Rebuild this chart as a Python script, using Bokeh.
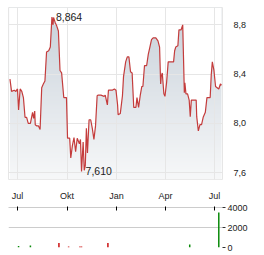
import numpy as np
import pandas as pd
from bokeh.plotting import figure
from bokeh.layouts import column
from bokeh.models import Range1d, FixedTicker, CustomJSTickFormatter
from bokeh.core.properties import value
from bokeh.embed import file_html
from bokeh.resources import INLINE

# ---------------- data ----------------
dates = [
    "2023-06-17", "2023-06-20", "2023-06-25", "2023-06-28", "2023-07-01", "2023-07-03",
    "2023-07-06", "2023-07-09", "2023-07-12", "2023-07-15", "2023-07-18", "2023-07-21",
    "2023-07-25", "2023-07-29", "2023-07-31", "2023-08-02", "2023-08-03", "2023-08-06",
    "2023-08-09", "2023-08-12", "2023-08-15", "2023-08-18", "2023-08-21", "2023-08-24",
    "2023-08-28", "2023-08-31", "2023-09-03", "2023-09-05", "2023-09-06", "2023-09-09",
    "2023-09-12", "2023-09-15", "2023-09-18", "2023-09-21", "2023-09-25", "2023-09-30",
    "2023-10-02", "2023-10-06", "2023-10-08", "2023-10-11", "2023-10-14", "2023-10-17",
    "2023-10-20", "2023-10-24", "2023-10-26", "2023-10-28", "2023-10-31", "2023-11-02",
    "2023-11-04", "2023-11-06", "2023-11-08", "2023-11-11", "2023-11-14", "2023-11-17",
    "2023-11-20", "2023-11-23", "2023-11-26", "2023-11-28", "2023-12-03", "2023-12-09",
    "2023-12-11", "2023-12-15", "2023-12-17", "2023-12-21", "2023-12-24", "2023-12-28",
    "2023-12-31", "2024-01-03", "2024-01-04", "2024-01-08", "2024-01-12", "2024-01-14",
    "2024-01-18", "2024-01-21", "2024-01-24", "2024-01-27", "2024-01-30", "2024-02-02",
    "2024-02-06", "2024-02-08", "2024-02-11", "2024-02-14", "2024-02-17", "2024-02-19",
    "2024-02-22", "2024-02-26", "2024-02-29", "2024-03-03", "2024-03-06", "2024-03-09",
    "2024-03-14", "2024-03-18", "2024-03-21", "2024-03-23", "2024-03-24", "2024-03-26",
    "2024-03-29", "2024-03-31", "2024-04-03", "2024-04-06", "2024-04-13", "2024-04-16",
    "2024-04-18", "2024-04-20", "2024-04-24", "2024-04-26", "2024-04-30", "2024-05-03",
    "2024-05-06", "2024-05-07", "2024-05-09", "2024-05-12", "2024-05-15", "2024-05-17",
    "2024-05-19", "2024-05-23", "2024-05-28", "2024-05-29", "2024-06-01", "2024-06-04",
    "2024-06-07", "2024-06-10", "2024-06-14", "2024-06-17", "2024-06-20", "2024-06-23",
    "2024-06-25", "2024-06-27", "2024-06-30", "2024-07-03", "2024-07-06", "2024-07-09",
    "2024-07-12", "2024-07-14",
]
prices = [
    8.36, 8.26, 8.27, 8.26, 8.28, 8.11,
    8.28, 8.26, 8.21, 8.05, 8.05, 8.00,
    8.00, 8.09, 8.04, 8.10, 7.99, 7.98,
    7.98, 7.95, 8.29, 8.32, 8.345, 8.58,
    8.59, 8.62, 8.864, 8.80, 8.86, 8.82,
    8.79, 8.75, 8.43, 8.41, 8.21, 8.21,
    7.88, 7.88, 7.72, 7.82, 7.885, 7.77,
    7.88, 7.835, 7.87, 7.61, 7.85, 7.62,
    7.66, 7.96, 7.76, 8.03, 8.03, 7.96,
    7.87, 7.98, 8.225, 8.23, 8.23, 8.22,
    8.23, 8.15, 8.27, 8.27, 8.27, 8.28,
    8.27, 8.15, 8.07, 8.08, 8.225, 8.38,
    8.50, 8.54, 8.54, 8.42, 8.41, 8.13,
    8.13, 8.21, 8.13, 8.225, 8.30, 8.30,
    8.47, 8.47, 8.56, 8.62, 8.68, 8.695,
    8.695, 8.67, 8.62, 8.32, 8.38, 8.41,
    8.24, 8.22, 8.33, 8.50, 8.50, 8.50,
    8.59, 8.62, 8.63, 8.76, 8.76, 8.80,
    8.25, 8.33, 8.24, 8.24, 8.19, 8.055,
    8.19, 8.19, 8.19, 8.055, 7.94, 7.99,
    7.99, 8.05, 8.09, 8.21, 8.21, 8.21,
    8.395, 8.50, 8.43, 8.30, 8.29, 8.28,
    8.32, 8.31,
]
vol_dates = ["2023-07-03", "2023-07-25", "2023-09-16", "2023-10-04", "2023-10-25",
             "2023-10-28", "2023-12-16", "2024-05-16", "2024-07-09"]
volumes = [150, 200, 450, 100, 100, 100, 450, 300, 3500]
vol_dir = ["up", "up", "down", "down", "down", "down", "down", "up", "up"]

month_ticks = ["2023-07-01", "2023-10-01", "2024-01-01", "2024-04-01", "2024-07-01"]
price_ticks = [7.6, 8.0, 8.4, 8.8]
volume_ticks = [0, 2000, 4000]

# ---------------- helpers ----------------
def to_ms(lst):
    return np.array(pd.to_datetime(lst).values.astype("datetime64[ms]").astype("int64"), dtype=float)

x_ms = to_ms(dates)
vx_ms = to_ms(vol_dates)
tick_ms = list(to_ms(month_ticks))
DAY = 86400000.0
X0 = tick_ms[0] - 16.7 * DAY
X1 = tick_ms[-1] + 14.9 * DAY
Y0, Y1 = 7.545, 8.941

FONT = "Liberation Sans"
TXT = "#222222"
month_fmt = CustomJSTickFormatter(code="""
const m=['Jan','Feb','Mär','Apr','Mai','Jun','Jul','Aug','Sep','Okt','Nov','Dez'];
return m[new Date(tick).getUTCMonth()];""")

# ---------------- price chart ----------------
p = figure(width=264, height=203, x_range=Range1d(X0, X1), y_range=Range1d(Y0, Y1),
           x_axis_type="datetime", y_axis_location="right",
           toolbar_location=None, output_backend="svg",
           min_border_left=8, min_border_right=42, min_border_top=7, min_border_bottom=18)
p.outline_line_color = "#e6e6e6"
p.background_fill_color = "white"
p.border_fill_color = "white"

# vertical gradient under the line
N = 180
top_rgb = np.array([200, 209, 218])
bot_rgb = np.array([247, 248, 249])
t = np.linspace(0, 1, N)[:, None]
rgb = (bot_rgb + (top_rgb - bot_rgb) * t).astype(np.uint8)
img = np.zeros((N, 2), dtype=np.uint32)
view = img.view(dtype=np.uint8).reshape((N, 2, 4))
for c in range(2):
    view[:, c, 0] = rgb[:, 0]
    view[:, c, 1] = rgb[:, 1]
    view[:, c, 2] = rgb[:, 2]
    view[:, c, 3] = 255
p.image_rgba(image=[img], x=x_ms[0], y=Y0, dw=x_ms[-1] - x_ms[0], dh=Y1 - Y0)
p.varea(x=x_ms, y1=prices, y2=Y1, fill_color="white")

for g in (p.xgrid[0], p.ygrid[0]):
    g.grid_line_color = "#e6e6e6"
    g.grid_line_width = 1
    g.level = "guide"
p.xgrid[0].ticker = FixedTicker(ticks=tick_ms)
p.ygrid[0].ticker = FixedTicker(ticks=price_ticks)

ln = p.line(x_ms, prices, line_color="#c43c3c", line_width=1.2)
ln.level = "overlay"

def fmt3(v):
    return f"{v:.3f}".replace(".", ",")

imax = int(np.argmax(prices))
imin = int(np.argmin(prices))
lab = p.text(x=[x_ms[imax], x_ms[imin]], y=[prices[imax], prices[imin]],
             text=[fmt3(prices[imax]), fmt3(prices[imin])],
             x_offset=4, text_baseline="middle", text_align="left",
             text_font=value(FONT), text_font_size="10.5px", text_color=TXT)
lab.level = "overlay"

xa = p.xaxis[0]
xa.ticker = FixedTicker(ticks=tick_ms)
xa.formatter = month_fmt
xa.axis_line_color = None
xa.major_tick_line_color = None
xa.minor_tick_line_color = None
xa.major_label_standoff = 5
xa.major_label_text_font = FONT
xa.major_label_text_font_size = "9px"
xa.major_label_text_color = TXT

ya = p.yaxis[0]
ya.ticker = FixedTicker(ticks=price_ticks)
ya.formatter = CustomJSTickFormatter(code="return tick.toFixed(1).replace('.', ',');")
ya.axis_line_color = None
ya.major_tick_line_color = None
ya.minor_tick_line_color = None
ya.major_label_standoff = 5
ya.major_label_text_font = FONT
ya.major_label_text_font_size = "9px"
ya.major_label_text_color = TXT

# ---------------- volume chart ----------------
v = figure(width=264, height=52, x_range=p.x_range, y_range=Range1d(0, 4000),
           x_axis_type="datetime", x_axis_location="above", y_axis_location="right",
           toolbar_location=None, output_backend="svg",
           min_border_left=8, min_border_right=42, min_border_top=4, min_border_bottom=8)
v.outline_line_color = None
v.background_fill_color = "white"
v.border_fill_color = "white"
v.xgrid[0].visible = False
v.ygrid[0].ticker = FixedTicker(ticks=volume_ticks)
v.ygrid[0].grid_line_color = "#cccccc"

dir_colors = {"up": "#0a8a0a", "down": "#cc1111"}
v.segment(x0=vx_ms, y0=[0] * len(volumes), x1=vx_ms, y1=volumes,
          line_color=[dir_colors[d] for d in vol_dir], line_width=1.5)

vxa = v.xaxis[0]
vxa.ticker = FixedTicker(ticks=tick_ms)
vxa.formatter = CustomJSTickFormatter(code="return '';")
vxa.axis_line_color = "#cccccc"
vxa.major_tick_line_color = "#000000"
vxa.major_tick_in = 3
vxa.major_tick_out = 1
vxa.minor_tick_line_color = None
vxa.major_label_text_font_size = "0px"
vxa.major_label_standoff = 0

vya = v.yaxis[0]
vya.ticker = FixedTicker(ticks=volume_ticks)
vya.formatter = CustomJSTickFormatter(code="return tick.toFixed(0);")
vya.axis_line_color = None
vya.major_tick_line_color = "#333333"
vya.major_tick_in = 0
vya.major_tick_out = 3
vya.minor_tick_line_color = None
vya.major_label_standoff = 2
vya.major_label_text_font = FONT
vya.major_label_text_font_size = "9px"
vya.major_label_text_color = TXT

layout = column(p, v, spacing=0)
open("out.html", "w").write(file_html(layout, INLINE))
